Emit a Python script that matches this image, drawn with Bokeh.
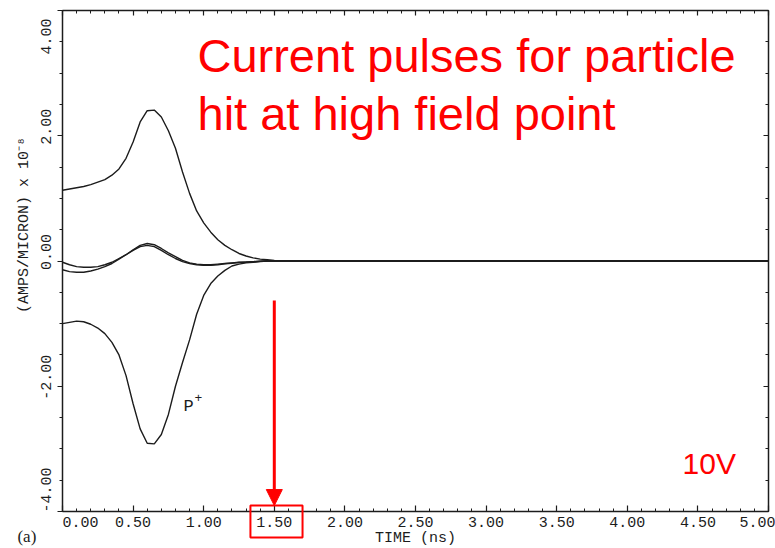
from bokeh.plotting import figure
from bokeh.models import (LinearAxis, SingleIntervalTicker, PrintfTickFormatter, Range1d,
                          Label, Arrow, NormalHead, PolyAnnotation)
from bokeh.embed import file_html
from bokeh.resources import INLINE

# ---- data ----
TIME = [0.00, 0.05, 0.10, 0.15, 0.20, 0.25, 0.30, 0.35, 0.40, 0.45,
        0.50, 0.55, 0.60, 0.65, 0.70, 0.75, 0.80, 0.85, 0.90, 0.95,
        1.00, 1.05, 1.10, 1.15, 1.20, 1.25, 1.30, 1.35, 1.40, 1.45,
        1.50, 2.00, 3.00, 4.00, 5.00]

TOP_PULSE = [1.13, 1.15, 1.17, 1.19, 1.22, 1.26, 1.30, 1.37, 1.47, 1.64,
             1.90, 2.22, 2.40, 2.41, 2.30, 2.08, 1.80, 1.42, 1.08, 0.80,
             0.61, 0.46, 0.34, 0.25, 0.18, 0.12, 0.08, 0.05, 0.03, 0.02,
             0.01, 0.00, 0.00, 0.00, 0.00]

MID_PULSE_A = [-0.02, -0.06, -0.09, -0.10, -0.10, -0.09, -0.06, -0.02, 0.04, 0.10,
               0.17, 0.23, 0.25, 0.23, 0.17, 0.10, 0.04, -0.01, -0.04, -0.06,
               -0.07, -0.07, -0.06, -0.045, -0.035, -0.025, -0.02, -0.01, -0.005, 0.0,
               0.0, 0.0, 0.0, 0.0, 0.0]

MID_PULSE_B = [-0.14, -0.17, -0.18, -0.18, -0.16, -0.13, -0.09, -0.04, 0.03, 0.10,
               0.18, 0.25, 0.28, 0.26, 0.20, 0.13, 0.07, 0.01, -0.03, -0.05,
               -0.06, -0.06, -0.05, -0.04, -0.03, -0.02, -0.015, -0.01, -0.005, 0.0,
               0.0, 0.0, 0.0, 0.0, 0.0]

P_PULSE = [-1.00, -0.98, -0.96, -0.97, -1.01, -1.07, -1.16, -1.30, -1.50, -1.83,
           -2.28, -2.68, -2.91, -2.92, -2.77, -2.45, -2.00, -1.62, -1.26, -0.85,
           -0.55, -0.36, -0.24, -0.15, -0.08, -0.05, -0.03, -0.02, -0.01, 0.0,
           0.0, 0.0, 0.0, 0.0, 0.0]

# axis extents of the original plot box
X_BOUNDS = (0.0, 5.0)
Y_BOUNDS = (-4.0, 4.0)
X_TICK_STEP = 0.5
Y_TICK_STEP = 2.0

NB = "\u00a0"
# tick labels; non-breaking spaces nudge the labels as placed in the original
X_TICK_LABELS = {0: NB * 4 + "0.00"}
Y_TICK_LABELS = {4: "4.00" + NB * 2, 2: NB * 2 + "2.00", 0: NB * 2 + "0.00",
                 -2: NB * 2 + "-2.00", -4: NB * 4 + "-4.00"}

TITLE_LINE1 = "Current pulses for particle"
TITLE_LINE2 = "hit at high field point"
VOLT_TEXT = "10V"
X_LABEL = "TIME (ns)"
Y_LABEL = NB * 8 + "(AMPS/MICRON) x 10\u207b\u2078"
PANEL_TAG = "(a)"
CURVE_TAG = "P"
HIGHLIGHT_T = 1.50

MONO = "Liberation Mono"
SANS = "Liberation Sans"
INK = "#1c1c1c"

# the data area fills the canvas; the axes sit at fixed positions inside it
VIEW_X = (-0.4391, 5.0496)
VIEW_Y = (-4.5908, 4.1597)

p = figure(width=775, height=548, output_backend="svg", toolbar_location=None,
           x_range=Range1d(*VIEW_X), y_range=Range1d(*VIEW_Y),
           x_axis_type=None, y_axis_type=None,
           min_border_left=0, min_border_right=0, min_border_top=0, min_border_bottom=0)
p.xgrid.visible = False
p.ygrid.visible = False
p.outline_line_color = None
p.background_fill_color = "white"
p.border_fill_color = "white"

xt = SingleIntervalTicker(interval=X_TICK_STEP, num_minor_ticks=5)
yt = SingleIntervalTicker(interval=Y_TICK_STEP, num_minor_ticks=4)
fmt = PrintfTickFormatter(format="%.2f")

def style(ax):
    ax.axis_line_color = INK
    ax.axis_line_width = 1.5
    ax.major_tick_line_color = INK
    ax.minor_tick_line_color = INK
    ax.major_tick_line_width = 1.2
    ax.minor_tick_line_width = 1.0
    ax.major_label_text_font = MONO
    ax.major_label_text_font_size = "15px"
    ax.major_label_text_color = INK
    ax.axis_label_text_font = MONO
    ax.axis_label_text_font_size = "15px"
    ax.axis_label_text_font_style = "normal"
    ax.axis_label_text_color = INK

xa = LinearAxis(ticker=xt, formatter=fmt, axis_label=X_LABEL, major_label_overrides=X_TICK_LABELS,
                fixed_location=Y_BOUNDS[0], bounds=X_BOUNDS)
style(xa)
xa.major_tick_in = 6
xa.major_tick_out = 0
xa.minor_tick_in = 3
xa.minor_tick_out = 0
xa.major_label_standoff = 3
xa.axis_label_standoff = -5
p.add_layout(xa, "below")

ya = LinearAxis(ticker=yt, formatter=fmt, axis_label=Y_LABEL, major_label_overrides=Y_TICK_LABELS,
                fixed_location=X_BOUNDS[0], bounds=Y_BOUNDS)
style(ya)
ya.major_tick_in = 0
ya.major_tick_out = 5
ya.minor_tick_in = 0
ya.minor_tick_out = 3
ya.major_label_orientation = "vertical"
ya.major_label_standoff = 1
ya.axis_label_standoff = 4
p.add_layout(ya, "left")

for side, tick, loc, bnd in (("above", xt, Y_BOUNDS[1], X_BOUNDS), ("right", yt, X_BOUNDS[1], Y_BOUNDS)):
    ax = LinearAxis(ticker=tick, formatter=fmt, fixed_location=loc, bounds=bnd)
    style(ax)
    ax.major_label_text_font_size = "1px"
    ax.major_label_text_color = None
    ax.major_tick_in = 5
    ax.major_tick_out = 0
    ax.minor_tick_in = 3
    ax.minor_tick_out = 0
    ax.major_label_standoff = 0
    p.add_layout(ax, side)

for series in (TOP_PULSE, MID_PULSE_A, MID_PULSE_B, P_PULSE):
    p.line(TIME, series, line_color=INK, line_width=1.4)

# annotations
p.add_layout(Label(x=0.956, y=3.283, text=TITLE_LINE1, text_font=SANS, text_font_size="47px",
                   text_color="red", text_baseline="alphabetic"))
p.add_layout(Label(x=0.956, y=2.357, text=TITLE_LINE2, text_font=SANS, text_font_size="47px",
                   text_color="red", text_baseline="alphabetic"))
p.add_layout(Label(x=4.391, y=-3.23, text=VOLT_TEXT, text_font=SANS, text_font_size="30px",
                   text_color="red", text_baseline="alphabetic"))
p.add_layout(Label(x=0.857, y=-2.33, text=CURVE_TAG, text_font=MONO, text_font_size="17px",
                   text_color=INK, text_baseline="alphabetic"))
p.add_layout(Label(x=0.857, y=-2.33, x_offset=11, y_offset=9, text="+", text_font=MONO,
                   text_font_size="13px", text_color=INK, text_baseline="alphabetic"))
p.add_layout(Label(x=-0.319, y=-4.40, text=PANEL_TAG, text_font="Liberation Serif",
                   text_font_size="17px", text_color=INK, text_baseline="alphabetic"))

p.add_layout(Arrow(x_start=HIGHLIGHT_T, y_start=-0.63, x_end=HIGHLIGHT_T, y_end=-3.905,
                   line_color="red", line_width=3,
                   end=NormalHead(size=16, fill_color="red", line_color="red")))
p.add_layout(PolyAnnotation(xs=[HIGHLIGHT_T - 0.169, HIGHLIGHT_T + 0.2, HIGHLIGHT_T + 0.2, HIGHLIGHT_T - 0.169],
                            ys=[-3.906, -3.906, -4.417, -4.417],
                            fill_alpha=0, line_color="red", line_alpha=1.0, line_width=2))

open("out.html", "w").write(file_html(p, INLINE))
